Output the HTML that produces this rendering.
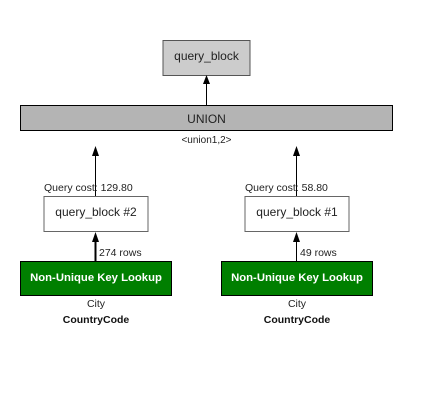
<!DOCTYPE html>
<html><head><style>
html,body{margin:0;padding:0;background:#fff;width:432px;height:409px;overflow:hidden}
svg{display:block;font-family:"Liberation Sans",sans-serif}
</style></head><body>
<svg width="432" height="409" viewBox="0 0 432 409">
<rect x="163" y="40.5" width="87" height="35" fill="#cccccc" stroke="#555" stroke-width="1"/>
<text x="206.5" y="60" font-size="12" text-anchor="middle" fill="#222">query_block</text>
<line x1="206.5" y1="105" x2="206.5" y2="84" stroke="#000"/>
<polygon points="206.5,75 203,84 210,84" fill="#000"/>
<rect x="20.5" y="105.5" width="372" height="25" fill="#b4b4b4" stroke="#000" stroke-width="1"/>
<text x="206.5" y="123" font-size="12" text-anchor="middle" fill="#222">UNION</text>
<text x="206.5" y="143" font-size="10" text-anchor="middle" fill="#222">&lt;union1,2&gt;</text>

<line x1="95.5" y1="196" x2="95.5" y2="155" stroke="#000"/>
<polygon points="95.5,146 92,156 99,156" fill="#000"/>
<line x1="296.5" y1="196" x2="296.5" y2="155" stroke="#000"/>
<polygon points="296.5,146 293,156 300,156" fill="#000"/>

<text x="44" y="191" font-size="10.5" fill="#222">Query cost: 129.80</text>
<text x="245" y="191" font-size="10.5" fill="#222">Query cost: 58.80</text>

<rect x="44" y="196.5" width="104" height="35" fill="#fff" stroke="#666" stroke-width="1"/>
<text x="96" y="216" font-size="12" text-anchor="middle" fill="#222">query_block #2</text>
<rect x="245" y="196.5" width="104" height="35" fill="#fff" stroke="#666" stroke-width="1"/>
<text x="297" y="216" font-size="12" text-anchor="middle" fill="#222">query_block #1</text>

<line x1="95.5" y1="261" x2="95.5" y2="240" stroke="#000" stroke-width="2"/>
<polygon points="95.5,232 92,242 99,242" fill="#000"/>
<line x1="296.5" y1="261" x2="296.5" y2="240" stroke="#000"/>
<polygon points="296.5,232 293,242 300,242" fill="#000"/>
<text x="99" y="256" font-size="10.5" fill="#222">274 rows</text>
<text x="300" y="256" font-size="10.5" fill="#222">49 rows</text>

<rect x="20.5" y="261.5" width="151" height="34" fill="#007f00" stroke="#000" stroke-width="1"/>
<text x="96" y="281" font-size="11.3" font-weight="bold" text-anchor="middle" fill="#fff">Non-Unique Key Lookup</text>
<rect x="221.5" y="261.5" width="151" height="34" fill="#007f00" stroke="#000" stroke-width="1"/>
<text x="297" y="281" font-size="11.3" font-weight="bold" text-anchor="middle" fill="#fff">Non-Unique Key Lookup</text>

<text x="96" y="307" font-size="10.5" text-anchor="middle" fill="#222">City</text>
<text x="96" y="323" font-size="10.5" font-weight="bold" text-anchor="middle" fill="#111">CountryCode</text>
<text x="297" y="307" font-size="10.5" text-anchor="middle" fill="#222">City</text>
<text x="297" y="323" font-size="10.5" font-weight="bold" text-anchor="middle" fill="#111">CountryCode</text>
</svg>
</body></html>
